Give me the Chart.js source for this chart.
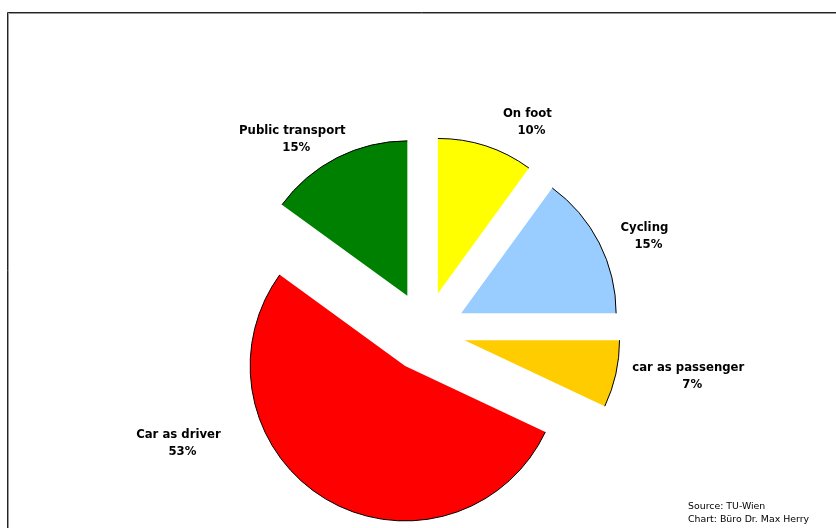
<!DOCTYPE html>
<html>
<head>
<meta charset="utf-8">
<script src="https://cdn.jsdelivr.net/npm/chart.js@4.4.1/dist/chart.umd.min.js"></script>
<style>
  html, body { margin: 0; padding: 0; background: #fff; }
</style>
</head>
<body>
<canvas id="modal-split" width="836" height="528"></canvas>
<script>
const categories = ['On foot', 'Cycling', 'car as passenger', 'Car as driver', 'Public transport'];
const shares = [10, 15, 7, 53, 15];
const sliceColors = ['#ffff00', '#99ccff', '#ffcc00', '#ff0000', '#008000'];
const sourceLines = ['Source: TU-Wien', 'Chart: Büro Dr. Max Herry'];

// label blocks: angle clockwise from 12 o'clock, distance in pie radii
const labelAngle = [26, 66.5, 99.7, 245.6, 325.3];
const labelDist = [1.50, 1.54, 1.72, 1.75, 1.51];

const explode = 40;
const labelFont = 'bold 11.7px "DejaVu Sans", Verdana, sans-serif';
const smallFont = '9.4px "DejaVu Sans", Verdana, sans-serif';

// pulls every slice out along its middle angle, outlines only the curved edge
const explodedPie = {
  id: 'explodedPie',
  beforeDatasetDraw(chart, args) {
    const ctx = chart.ctx;
    args.meta.data.forEach(arc => {
      const mid = (arc.startAngle + arc.endAngle) / 2;
      ctx.save();
      ctx.translate(Math.cos(mid) * explode, Math.sin(mid) * explode);
      arc.draw(ctx);
      ctx.beginPath();
      ctx.arc(arc.x, arc.y, arc.outerRadius, arc.startAngle, arc.endAngle);
      ctx.lineWidth = 1;
      ctx.strokeStyle = '#000';
      ctx.stroke();
      ctx.restore();
    });
    return false;
  }
};

// frame line on the left and top
const frame = {
  id: 'frame',
  beforeDraw(chart) {
    const ctx = chart.ctx;
    ctx.save();
    ctx.lineWidth = 1;
    ctx.strokeStyle = '#222';
    ctx.beginPath();
    ctx.moveTo(7.5, chart.height);
    ctx.lineTo(7.5, 12.5);
    ctx.lineTo(chart.width, 12.5);
    ctx.stroke();
    ctx.strokeStyle = '#999';
    ctx.beginPath();
    ctx.moveTo(8.5, chart.height);
    ctx.lineTo(8.5, 13.5);
    ctx.lineTo(chart.width, 13.5);
    ctx.stroke();
    ctx.restore();
  }
};

const sliceLabels = {
  id: 'sliceLabels',
  afterDraw(chart) {
    const ctx = chart.ctx;
    const meta = chart.getDatasetMeta(0);
    ctx.save();
    ctx.fillStyle = '#000';
    ctx.font = labelFont;
    ctx.textAlign = 'center';
    ctx.textBaseline = 'middle';
    meta.data.forEach((arc, i) => {
      const a = labelAngle[i] * Math.PI / 180;
      const d = labelDist[i] * arc.outerRadius;
      const x = arc.x + Math.sin(a) * d;
      const y = arc.y - Math.cos(a) * d;
      ctx.fillText(categories[i], x, y - 8.5);
      ctx.fillText(shares[i] + '%', x + 4, y + 8.5);
    });
    ctx.font = smallFont;
    ctx.textAlign = 'left';
    sourceLines.forEach((line, i) => {
      ctx.fillText(line, 688, 507 + i * 13);
    });
    ctx.restore();
  }
};

new Chart(document.getElementById('modal-split'), {
  type: 'pie',
  data: {
    labels: categories,
    datasets: [{
      data: shares,
      backgroundColor: sliceColors,
      borderWidth: 0
    }]
  },
  options: {
    responsive: false,
    animation: false,
    layout: {
      padding: { left: 15, right: 0, top: 176.5, bottom: 41.5 }
    },
    plugins: {
      legend: { display: false },
      tooltip: { enabled: false }
    }
  },
  plugins: [frame, explodedPie, sliceLabels]
});
</script>
</body>
</html>
